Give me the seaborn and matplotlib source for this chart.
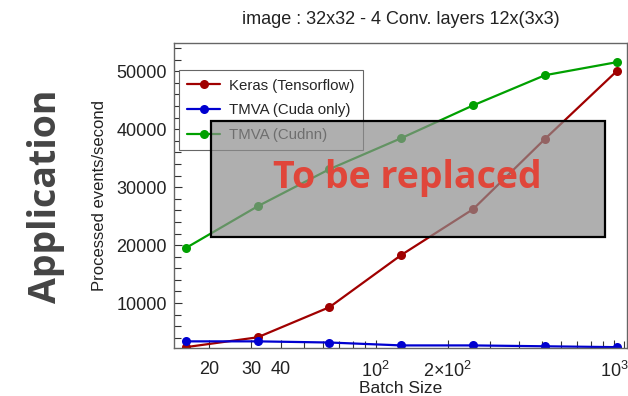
import numpy as np
import pandas as pd
import matplotlib
matplotlib.use('Agg')
import matplotlib.pyplot as plt
import matplotlib.ticker as mticker
from matplotlib.patches import Rectangle
import seaborn as sns

# data
batch_size = [16, 32, 64, 128, 256, 512, 1024]
keras_tf = [2400, 4100, 9300, 18300, 26200, 38300, 50000]
tmva_cuda = [3400, 3400, 3200, 2700, 2700, 2550, 2400]
tmva_cudnn = [19500, 26700, 33100, 38450, 44100, 49300, 51550]

series_names = ['Keras (Tensorflow)', 'TMVA (Cuda only)', 'TMVA (Cudnn)']
series_colors = ['#a00000', '#0000d0', '#00a000']

df = pd.DataFrame({
    'batch': batch_size * 3,
    'events': keras_tf + tmva_cuda + tmva_cudnn,
    'series': [n for n in series_names for _ in batch_size],
})

sns.set_style('ticks')
plt.rcParams['font.family'] = ['Liberation Sans', 'DejaVu Sans']
plt.rcParams['mathtext.fontset'] = 'custom'
plt.rcParams['mathtext.rm'] = 'Liberation Sans'

fig = plt.figure(figsize=(6.28, 3.96), dpi=100)
ax = fig.add_axes([0.277, 0.121, 0.721, 0.770])

sns.lineplot(data=df, x='batch', y='events', hue='series', hue_order=series_names,
             palette=series_colors, marker='o', markersize=6.5, markeredgewidth=0,
             linewidth=1.6, ax=ax)

ax.set_xscale('log')
ax.set_xlim(14.26, 1128)
ax.set_ylim(2240, 54830)

ax.xaxis.set_major_locator(mticker.FixedLocator([20, 30, 40, 100, 200, 1000]))
ax.xaxis.set_major_formatter(mticker.FixedFormatter(
    ['20', '30', '40', r'$10^{2}$', r'$2{\times}10^{2}$', r'$10^{3}$']))
ax.xaxis.set_minor_locator(mticker.FixedLocator(
    [v for v in list(range(20, 100, 10)) + list(range(200, 1000, 100)) + [1100]]))
ax.xaxis.set_minor_formatter(mticker.NullFormatter())
ax.yaxis.set_major_locator(mticker.MultipleLocator(10000))
ax.yaxis.set_minor_locator(mticker.MultipleLocator(2000))

ax.tick_params(which='both', direction='in', colors='#333333', labelcolor='#222222',
               labelsize=13, width=0.8)
ax.tick_params(which='major', length=6)
ax.tick_params(which='minor', length=5)
ax.tick_params(axis='x', pad=9)
ax.tick_params(axis='y', pad=5)
for s in ax.spines.values():
    s.set_color('#666666')
    s.set_linewidth(1.0)

ax.set_xlabel('Batch Size', fontsize=12.5, labelpad=0, color='#222222')
ax.set_ylabel('Processed events/second', fontsize=12, labelpad=7, color='#222222')
ax.set_title('image : 32x32 - 4 Conv. layers 12x(3x3)', fontsize=13, pad=14, color='#222222')

leg = ax.legend(loc='upper left', bbox_to_anchor=(0.011, 0.911), fontsize=10.8,
                frameon=True, fancybox=False, borderaxespad=0, handlelength=2.2,
                labelspacing=0.72, borderpad=0.55, handletextpad=0.6)
leg.get_frame().set_edgecolor('#666666')
leg.get_frame().set_linewidth(0.8)
leg.get_frame().set_alpha(1)

# overlay box from the slide
fig.patches.append(Rectangle((0.336, 0.4015), 0.627, 0.293, transform=fig.transFigure,
                             facecolor='#8e8e8e', alpha=0.7, edgecolor='none', zorder=10))
fig.patches.append(Rectangle((0.336, 0.4015), 0.627, 0.293, transform=fig.transFigure,
                             facecolor='none', edgecolor='black', linewidth=1.6, zorder=11))
fig.text(0.648, 0.55, 'To be replaced', fontsize=27, fontweight='bold', family='Open Sans',
         color='#e0463a', ha='center', va='center', zorder=12)
fig.text(0.074, 0.505, 'Application', fontsize=27, fontweight='bold', family='Open Sans',
         color='#444444', ha='center', va='center', rotation=90)

fig.savefig('out.png', dpi=100)
